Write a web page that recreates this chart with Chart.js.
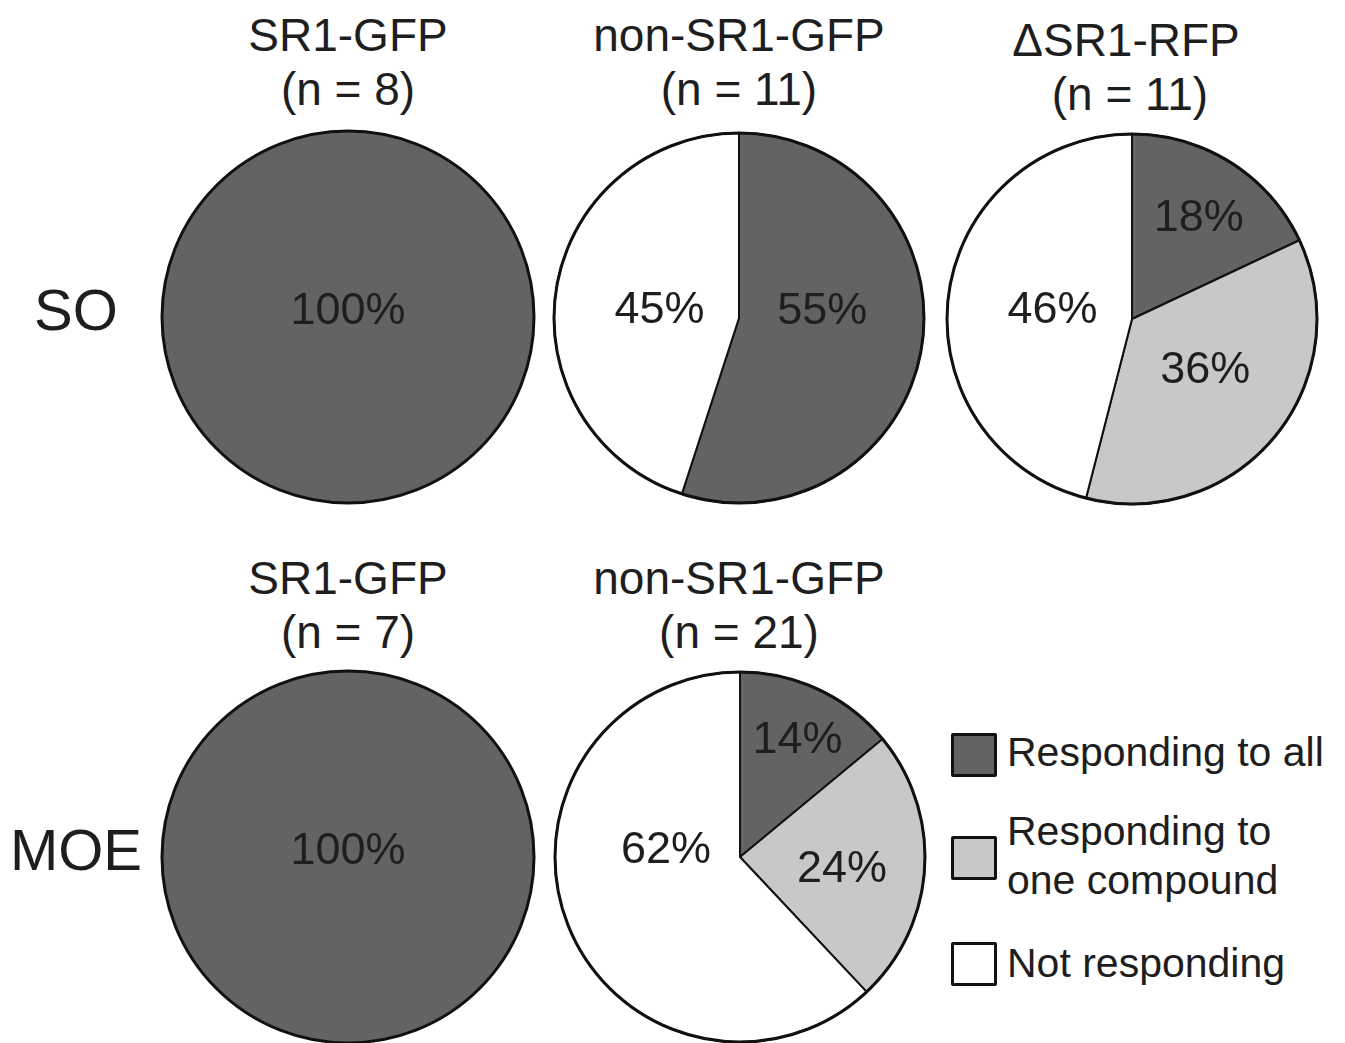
<!DOCTYPE html>
<html>
<head>
<meta charset="utf-8">
<script src="https://cdn.jsdelivr.net/npm/chart.js@4.4.1/dist/chart.umd.min.js"></script>
<style>
  body { margin: 0; width: 1345px; height: 1043px; overflow: hidden; background: #fff;
         font-family: "Liberation Sans", Arial, sans-serif; color: #1e1e1e; position: relative; }
  .pie { position: absolute; width: 376px; height: 376px; }
  .txt { position: absolute; transform: translate(-50%, -50%); white-space: nowrap; line-height: 1; }
  .title { font-size: 46px; }
  .row { font-size: 58px; }
  .box { position: absolute; width: 40px; height: 38px; border: 3px solid #111; border-radius: 2px; }
  .leg { position: absolute; font-size: 41px; line-height: 1; white-space: nowrap; transform: translateY(-50%); }
</style>
</head>
<body>

<div class="txt row" style="left:76px; top:310px;">SO</div>
<div class="txt row" style="left:76px; top:850px;">MOE</div>

<canvas id="pie1" class="pie" style="left:160px; top:129px;"></canvas>
<canvas id="pie2" class="pie" style="left:551px; top:130px;"></canvas>
<canvas id="pie3" class="pie" style="left:944px; top:131px;"></canvas>
<canvas id="pie4" class="pie" style="left:160px; top:669px;"></canvas>
<canvas id="pie5" class="pie" style="left:552px; top:669px;"></canvas>

<div id="titles"></div>

<div class="box" style="left:951px; top:733px; background:#636363;"></div>
<div class="leg" style="left:1007px; top:752px;">Responding to all</div>
<div class="box" style="left:951px; top:836px; background:#c8c8c8;"></div>
<div class="leg" style="left:1007px; top:831px;">Responding to</div>
<div class="leg" style="left:1007px; top:880px;">one compound</div>
<div class="box" style="left:951px; top:942px; background:#fff;"></div>
<div class="leg" style="left:1007px; top:963px;">Not responding</div>

<script>
// slices: responding to all, responding to one compound, not responding (%)
const categories = ['Responding to all', 'Responding to one compound', 'Not responding'];
const colors = ['#636363', '#c8c8c8', '#ffffff'];

const soSR1 = [100, 0, 0];
const soNonSR1 = [55, 0, 45];
const soDeltaSR1 = [18, 36, 46];
const moeSR1 = [100, 0, 0];
const moeNonSR1 = [14, 24, 62];

const groupNames = ['SR1-GFP', 'non-SR1-GFP', '\u0394SR1-RFP', 'SR1-GFP', 'non-SR1-GFP'];
const groupN = [8, 11, 11, 7, 21];

// title placement (centre x, first line y)
const titlePos = [[348, 35], [739, 35], [1126, 40], [348, 578], [739, 578]];
titlePos.forEach((p, i) => {
  const a = document.createElement('div');
  a.className = 'txt title';
  a.style.left = p[0] + 'px'; a.style.top = p[1] + 'px';
  a.textContent = groupNames[i];
  const b = document.createElement('div');
  b.className = 'txt title';
  b.style.left = (p[0] + (i === 2 ? 4 : 0)) + 'px'; b.style.top = (p[1] + 54) + 'px';
  b.textContent = '(n = ' + groupN[i] + ')';
  document.getElementById('titles').append(a, b);
});

// outline + percentage labels
const pieText = {
  id: 'pieText',
  afterDatasetsDraw(chart, args, opts) {
    const ctx = chart.ctx;
    const meta = chart.getDatasetMeta(0);
    const vals = chart.data.datasets[0].data;
    const first = meta.data[0];
    ctx.save();
    ctx.beginPath();
    ctx.arc(first.x, first.y, first.outerRadius, 0, Math.PI * 2);
    ctx.lineWidth = 3;
    ctx.strokeStyle = '#111';
    ctx.stroke();
    ctx.font = '45px "Liberation Sans", Arial, sans-serif';
    ctx.fillStyle = '#1e1e1e';
    ctx.textAlign = 'center';
    ctx.textBaseline = 'middle';
    meta.data.forEach((arc, i) => {
      if (!vals[i]) return;
      const mid = (arc.startAngle + arc.endAngle) / 2 + (opts.nudge[i] || 0) * Math.PI / 180;
      const r = arc.outerRadius * opts.dist[i];
      ctx.fillText(vals[i] + '%', arc.x + Math.cos(mid) * r, arc.y + Math.sin(mid) * r - 5);
    });
    ctx.restore();
  }
};

function makePie(id, values, dist, nudge) {
  const slices = values.filter(v => v > 0).length;
  new Chart(document.getElementById(id), {
    type: 'pie',
    data: {
      labels: categories,
      datasets: [{
        data: values,
        backgroundColor: colors,
        borderColor: '#111',
        borderWidth: slices > 1 ? 2 : 0
      }]
    },
    options: {
      responsive: false,
      animation: false,
      layout: { padding: 2 },
      plugins: {
        legend: { display: false },
        tooltip: { enabled: false },
        pieText: { dist: dist, nudge: nudge || [] }
      }
    },
    plugins: [pieText]
  });
}

makePie('pie1', soSR1, [0, 0, 0]);
makePie('pie2', soNonSR1, [0.45, 0, 0.43], [-10, 0, -7]);
makePie('pie3', soDeltaSR1, [0.63, 0.5, 0.43], [2.5, -2, -5]);
makePie('pie4', moeSR1, [0, 0, 0]);
makePie('pie5', moeNonSR1, [0.68, 0.56, 0.40], [2, 6.4, 22.7]);
</script>
</body>
</html>
